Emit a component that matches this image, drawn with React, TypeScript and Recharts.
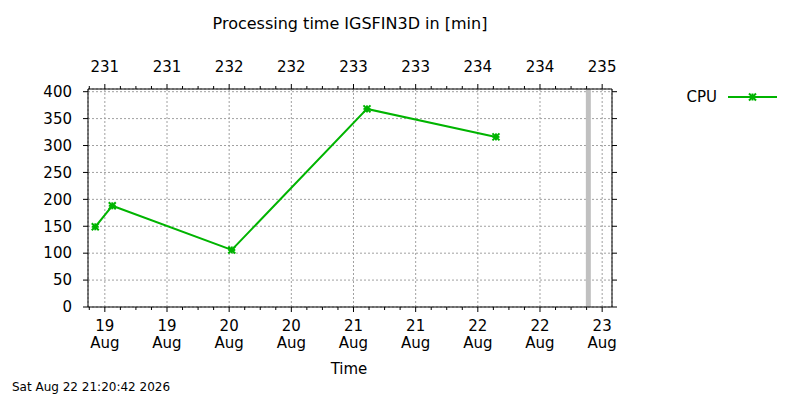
import React from "react";
import { LineChart, Line, XAxis, YAxis, CartesianGrid, ReferenceLine } from "recharts";

// sample times (local) and CPU processing time in minutes
const sampleTimes = [
  "2026-08-18 22:09",
  "2026-08-19 01:26",
  "2026-08-20 00:30",
  "2026-08-21 02:36",
  "2026-08-22 03:30",
];
const cpuMinutes = [149, 188, 106, 368, 316];

const nowTime = "2026-08-22 21:20";
const rangeStart = "2026-08-18 20:45";
const rangeEnd = "2026-08-23 01:54";

const majorTickTimes = [
  "2026-08-19 00:00",
  "2026-08-19 12:00",
  "2026-08-20 00:00",
  "2026-08-20 12:00",
  "2026-08-21 00:00",
  "2026-08-21 12:00",
  "2026-08-22 00:00",
  "2026-08-22 12:00",
  "2026-08-23 00:00",
];
const bottomDayLabels = ["19", "19", "20", "20", "21", "21", "22", "22", "23"];
const topDayLabels = ["231", "231", "232", "232", "233", "233", "234", "234", "235"];
const yTicks = [0, 50, 100, 150, 200, 250, 300, 350, 400];

const FONT = "DejaVu Sans";
const GREEN = "#00b400";
const BASE = Date.UTC(2026, 7, 19);

// hours since 19 Aug 00:00
function toHours(s: string) {
  const [d, t] = s.split(" ");
  const [yy, mm, dd] = d.split("-").map(Number);
  const [hh, mi] = t.split(":").map(Number);
  return (Date.UTC(yy, mm - 1, dd, hh, mi) - BASE) / 3600000;
}

const data = sampleTimes.map((t, i) => ({ t: toHours(t), cpu: cpuMinutes[i] }));
const majorHours = majorTickTimes.map(toHours);
const xDomain = [toHours(rangeStart), toHours(rangeEnd)];

// minor ticks every 3 hours inside the range
const allTicks: number[] = [];
for (let h = Math.ceil(xDomain[0] / 3) * 3; h <= xDomain[1]; h += 3) allTicks.push(h);

function BottomTick(props: any) {
  const { x, y, payload } = props;
  const i = majorHours.indexOf(payload.value);
  const major = i >= 0;
  return (
    <g>
      <line x1={x} y1={y} x2={x} y2={y + (major ? 5 : 3)} stroke="#000" />
      {major && (
        <text textAnchor="middle" fontSize={15} fill="#000" fontFamily={FONT}>
          <tspan x={x} y={y + 24}>{bottomDayLabels[i]}</tspan>
          <tspan x={x} y={y + 41}>Aug</tspan>
        </text>
      )}
    </g>
  );
}

function TopTick(props: any) {
  const { x, y, payload } = props;
  const i = majorHours.indexOf(payload.value);
  const major = i >= 0;
  return (
    <g>
      <line x1={x} y1={y} x2={x} y2={y - (major ? 5 : 3)} stroke="#000" />
      {major && (
        <text x={x} y={y - 17} textAnchor="middle" fontSize={15} fill="#000" fontFamily={FONT}>
          {topDayLabels[i]}
        </text>
      )}
    </g>
  );
}

// star marker: plus and cross
function Marker({ cx, cy, r = 3.5 }: { cx: number; cy: number; r?: number }) {
  return (
    <g stroke={GREEN} fill="none">
      <line x1={cx - r} y1={cy} x2={cx + r} y2={cy} strokeWidth={2} />
      <line x1={cx} y1={cy - r} x2={cx} y2={cy + r} strokeWidth={2} />
      <line x1={cx - r} y1={cy - r} x2={cx + r} y2={cy + r} strokeWidth={2} />
      <line x1={cx - r} y1={cy + r} x2={cx + r} y2={cy - r} strokeWidth={2} />
    </g>
  );
}

function CpuDot(props: any) {
  const { cx, cy } = props;
  if (cx == null || cy == null) return null;
  return <Marker cx={cx} cy={cy} />;
}

export default function App() {
  return (
    <div style={{ position: "absolute", left: 0, top: 0, width: 800, height: 400, background: "#fff", fontFamily: FONT }}>
      <LineChart width={800} height={400} data={data} margin={{ top: 49, right: 178, bottom: 0, left: 48 }}>
        <XAxis xAxisId="grid" type="number" dataKey="t" domain={xDomain} ticks={majorHours} hide allowDataOverflow />
        <CartesianGrid xAxisId="grid" yAxisId="left" stroke="#a0a0a0" strokeDasharray="2 2" />
        <XAxis
          xAxisId="bottom"
          type="number"
          dataKey="t"
          domain={xDomain}
          ticks={allTicks}
          interval={0}
          allowDataOverflow
          height={93}
          tickSize={0}
          tickMargin={0}
          tickLine={false}
          axisLine={{ stroke: "#000" }}
          tick={<BottomTick />}
        />
        <XAxis
          xAxisId="top"
          orientation="top"
          type="number"
          dataKey="t"
          domain={xDomain}
          ticks={allTicks}
          interval={0}
          allowDataOverflow
          height={40}
          tickSize={0}
          tickMargin={0}
          tickLine={false}
          axisLine={{ stroke: "#000" }}
          tick={<TopTick />}
        />
        <YAxis
          yAxisId="left"
          domain={[0, 405]}
          ticks={yTicks}
          interval={0}
          allowDataOverflow
          width={40}
          tickSize={5}
          tickMargin={11}
          axisLine={{ stroke: "#000" }}
          tickLine={{ stroke: "#000" }}
          tick={{ fill: "#000", fontSize: 15, fontFamily: FONT }}
        />
        <YAxis
          yAxisId="right"
          orientation="right"
          domain={[0, 405]}
          ticks={yTicks}
          interval={0}
          allowDataOverflow
          width={10}
          tickSize={5}
          axisLine={{ stroke: "#000" }}
          tickLine={{ stroke: "#000" }}
          tick={() => <g />}
        />
        <ReferenceLine x={toHours(nowTime)} xAxisId="bottom" yAxisId="left" stroke="#c0c0c0" strokeWidth={5} />
        <Line
          xAxisId="bottom"
          yAxisId="left"
          type="linear"
          dataKey="cpu"
          stroke={GREEN}
          strokeWidth={2}
          dot={<CpuDot />}
          activeDot={false}
          isAnimationActive={false}
        />
      </LineChart>
      <svg width={800} height={400} style={{ position: "absolute", left: 0, top: 0, pointerEvents: "none" }}>
        <text x={350} y={29} textAnchor="middle" fontSize={16} fill="#000" fontFamily={FONT}>
          Processing time IGSFIN3D in [min]
        </text>
        <text x={349} y={374} textAnchor="middle" fontSize={15} fill="#000" fontFamily={FONT}>
          Time
        </text>
        <text x={12} y={391} fontSize={12} fill="#000" fontFamily={FONT}>
          Sat Aug 22 21:20:42 2026
        </text>
        <text x={717} y={102} textAnchor="end" fontSize={15} fill="#000" fontFamily={FONT}>
          CPU
        </text>
        <line x1={728} y1={97} x2={777} y2={97} stroke={GREEN} strokeWidth={2} />
        <Marker cx={752.5} cy={97} />
      </svg>
    </div>
  );
}
